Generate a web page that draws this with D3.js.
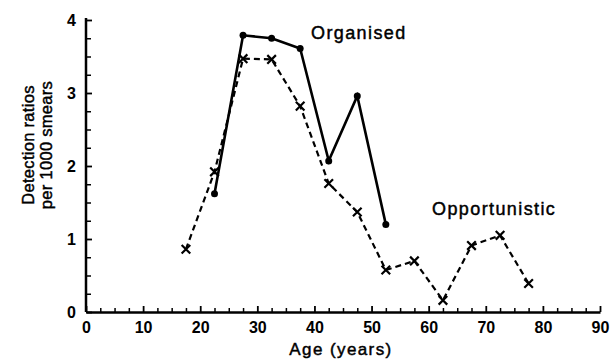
<!DOCTYPE html>
<html>
<head>
<meta charset="utf-8">
<script src="https://cdn.jsdelivr.net/npm/d3@7"></script>
<style>
  body { margin: 0; background: #fff; }
  svg { display: block; }
  .tick text { font-family: "Liberation Sans", Arial, sans-serif; font-weight: bold; font-size: 16px; fill: #000; }
  .lbl { font-family: "Liberation Sans", Arial, sans-serif; fill: #000; stroke: #000; stroke-width: 0.45px; }
</style>
</head>
<body>
<div id="chart"></div>
<script>
// Data
const ageOrganised = [22.5, 27.5, 32.5, 37.5, 42.5, 47.5, 52.5];
const ratioOrganised = [1.62, 3.79, 3.75, 3.61, 2.07, 2.96, 1.20];

const ageOpportunistic = [17.5, 22.5, 27.5, 32.5, 37.5, 42.5, 47.5, 52.5, 57.5, 62.5, 67.5, 72.5, 77.5];
const ratioOpportunistic = [0.86, 1.92, 3.47, 3.46, 2.82, 1.76, 1.37, 0.575, 0.70, 0.16, 0.91, 1.05, 0.39];

const xTicks = [0, 10, 20, 30, 40, 50, 60, 70, 80, 90];
const yTicks = [0, 1, 2, 3, 4];

const svgWidth = 611;
const svgHeight = 359;

const margin = { top: 20, right: 11, bottom: 47, left: 86 };
const chartWidth = svgWidth - margin.left - margin.right;
const chartHeight = svgHeight - margin.top - margin.bottom;

const svg = d3.select("#chart")
  .append("svg")
  .attr("width", svgWidth)
  .attr("height", svgHeight);

const chartGroup = svg.append("g")
  .attr("transform", `translate(${margin.left}, ${margin.top})`);

const x = d3.scaleLinear().domain([0, 90]).range([0, chartWidth]);
const y = d3.scaleLinear().domain([0, 4]).range([chartHeight, 0]);

// minor ticks every 2.5 years / 0.25
const xMinor = d3.range(0, 90.01, 2.5).filter(v => v % 10 !== 0);
const yMinor = d3.range(0, 4.01, 0.25).filter(v => v % 1 !== 0);

chartGroup.append("g")
  .attr("transform", `translate(0, ${chartHeight})`)
  .call(d3.axisBottom(x).tickValues(xMinor).tickSize(-4).tickFormat(""))
  .call(g => g.select(".domain").remove())
  .call(g => g.selectAll("line").attr("stroke-width", 1.5));

chartGroup.append("g")
  .call(d3.axisLeft(y).tickValues(yMinor).tickSize(-5).tickFormat(""))
  .call(g => g.select(".domain").remove())
  .call(g => g.selectAll("line").attr("stroke-width", 1.5));

const xAxis = chartGroup.append("g")
  .attr("transform", `translate(0, ${chartHeight})`)
  .call(d3.axisBottom(x).tickValues(xTicks).tickFormat(d3.format("d"))
    .tickSizeInner(-6).tickSizeOuter(0).tickPadding(10));
xAxis.select(".domain").attr("stroke-width", 2.5);
xAxis.selectAll("line").attr("stroke-width", 1.8);

const yAxis = chartGroup.append("g")
  .call(d3.axisLeft(y).tickValues(yTicks).tickFormat(d3.format("d"))
    .tickSizeInner(-6).tickSizeOuter(0).tickPadding(10));
yAxis.select(".domain").attr("stroke-width", 2.5).attr("d", `M0,${chartHeight}V-2`);
yAxis.selectAll("line").attr("stroke-width", 1.8);

const line = d3.line()
  .x(d => x(d[0]))
  .y(d => y(d[1]));

const organised = ageOrganised.map((a, i) => [a, ratioOrganised[i]]);
const opportunistic = ageOpportunistic.map((a, i) => [a, ratioOpportunistic[i]]);

chartGroup.append("path")
  .datum(opportunistic)
  .attr("d", line)
  .attr("fill", "none")
  .attr("stroke", "#000")
  .attr("stroke-width", 2.2)
  .attr("stroke-dasharray", "6,4");

chartGroup.selectAll(".xmark")
  .data(opportunistic)
  .enter()
  .append("path")
  .attr("class", "xmark")
  .attr("d", d3.symbol(d3.symbolTimes, 50))
  .attr("transform", d => `translate(${x(d[0])}, ${y(d[1])})`)
  .attr("fill", "none")
  .attr("stroke", "#000")
  .attr("stroke-width", 2.2);

chartGroup.append("path")
  .datum(organised)
  .attr("d", line)
  .attr("fill", "none")
  .attr("stroke", "#000")
  .attr("stroke-width", 2.6);

chartGroup.selectAll(".dot")
  .data(organised)
  .enter()
  .append("circle")
  .attr("class", "dot")
  .attr("cx", d => x(d[0]))
  .attr("cy", d => y(d[1]))
  .attr("r", 3.5)
  .attr("fill", "#000");

// series labels
svg.append("text")
  .attr("class", "lbl")
  .attr("x", 311)
  .attr("y", 39)
  .attr("font-size", 18)
  .attr("letter-spacing", 1.4)
  .text("Organised");

svg.append("text")
  .attr("class", "lbl")
  .attr("x", 432)
  .attr("y", 215)
  .attr("font-size", 18)
  .attr("letter-spacing", 1.4)
  .text("Opportunistic");

// axis titles
svg.append("text")
  .attr("class", "lbl")
  .attr("x", margin.left + x(45) - 2)
  .attr("y", 355)
  .attr("text-anchor", "middle")
  .attr("font-size", 17)
  .attr("letter-spacing", 1.4)
  .text("Age (years)");

const yTitle = svg.append("text")
  .attr("class", "lbl")
  .attr("transform", "translate(0, 145) rotate(-90)")
  .attr("text-anchor", "middle")
  .attr("font-size", 16.5)
  .attr("letter-spacing", 0.3);
yTitle.append("tspan").attr("x", 0).attr("y", 34).text("Detection ratios");
yTitle.append("tspan").attr("x", 0).attr("y", 52).text("per 1000 smears");
</script>
</body>
</html>
